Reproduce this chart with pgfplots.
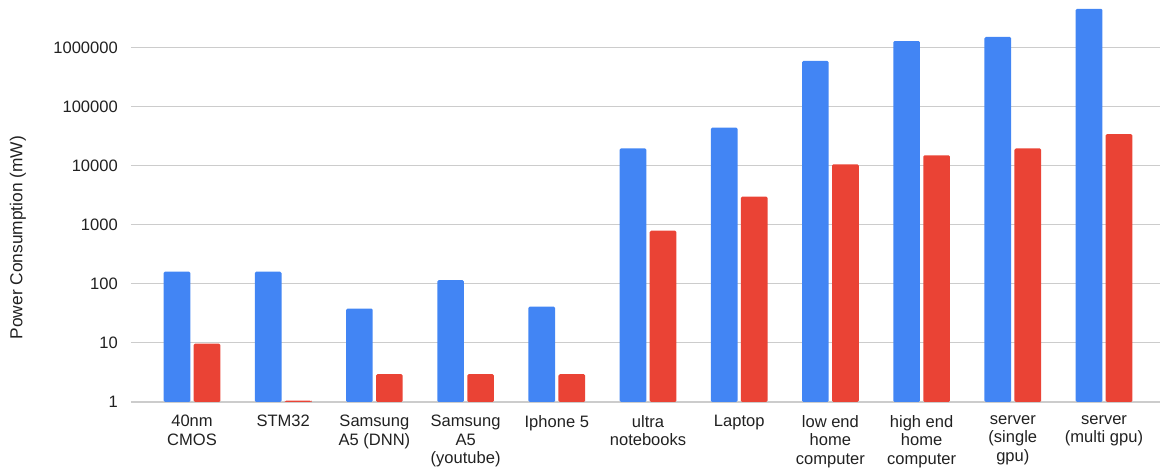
\documentclass[border=0pt]{standalone}
\usepackage{fontspec}
\setmainfont{Liberation Sans}
\usepackage{pgfplots}
\pgfplotsset{compat=1.18}
\definecolor{gblue}{HTML}{4285F4}
\definecolor{gred}{HTML}{EA4335}
\definecolor{gridc}{HTML}{CCCCCC}
\begin{document}
\begin{tikzpicture}
\begin{axis}[
  name=ax, at={(0,0)}, anchor=south west,
  scale only axis, width=771.75pt, height=300pt,
  ymode=log, ymin=1, ymax=5.86e6,
  xmin=-0.669, xmax=10.614,
  ybar=2.5pt, bar width=20pt,
  axis line style={draw=none},
  major tick length=0pt, minor tick length=0pt,
  ytick={1,10,100,1000,10000,100000,1000000},
  yticklabels={1,10,100,1000,10000,100000,1000000},
  ymajorgrids, yminorgrids=false,
  major grid style={draw=gridc, line width=0.9pt},
  xtick={0,...,10},
  xticklabels={40nm\\CMOS, STM32, Samsung\\A5 (DNN), Samsung\\A5\\(youtube), Iphone 5, ultra\\notebooks, Laptop, low end\\home\\computer, high end\\home\\computer, server\\(single\\gpu), server\\(multi gpu)},
  /pgf/number format/assume math mode=true,
  tick label style={font=\fontsize{12.4}{13.9}\selectfont, text=black!87},
  xticklabel style={anchor=north, align=center, inner sep=0pt, yshift=-9.75pt},
  yticklabel style={anchor=east, inner sep=0pt, xshift=-9.75pt},
  ylabel={Power Consumption (mW)},
  ylabel style={at={(axis description cs:0,0.411)}, anchor=center, yshift=84.75pt, font=\fontsize{13}{14}\selectfont, text=black!87, inner sep=0pt},
  clip=false,
]
\addplot[fill=gblue, draw=none, rounded corners=1pt] coordinates {
 (0,160) (1,160) (2,38) (3,115) (4,41) (5,19500) (6,44000) (7,590000) (8,1280000) (9,1500000) (10,4500000)};
\addplot[fill=gred, draw=none, rounded corners=1pt] coordinates {
 (0,9.7) (1,1.05) (2,2.95) (3,2.95) (4,2.95) (5,790) (6,2980) (7,10500) (8,14900) (9,19500) (10,34000)};
\end{axis}
\pgfresetboundingbox
\useasboundingbox (-98.25pt,-51pt) rectangle (773.25pt,301.5pt);
\end{tikzpicture}
\end{document}
